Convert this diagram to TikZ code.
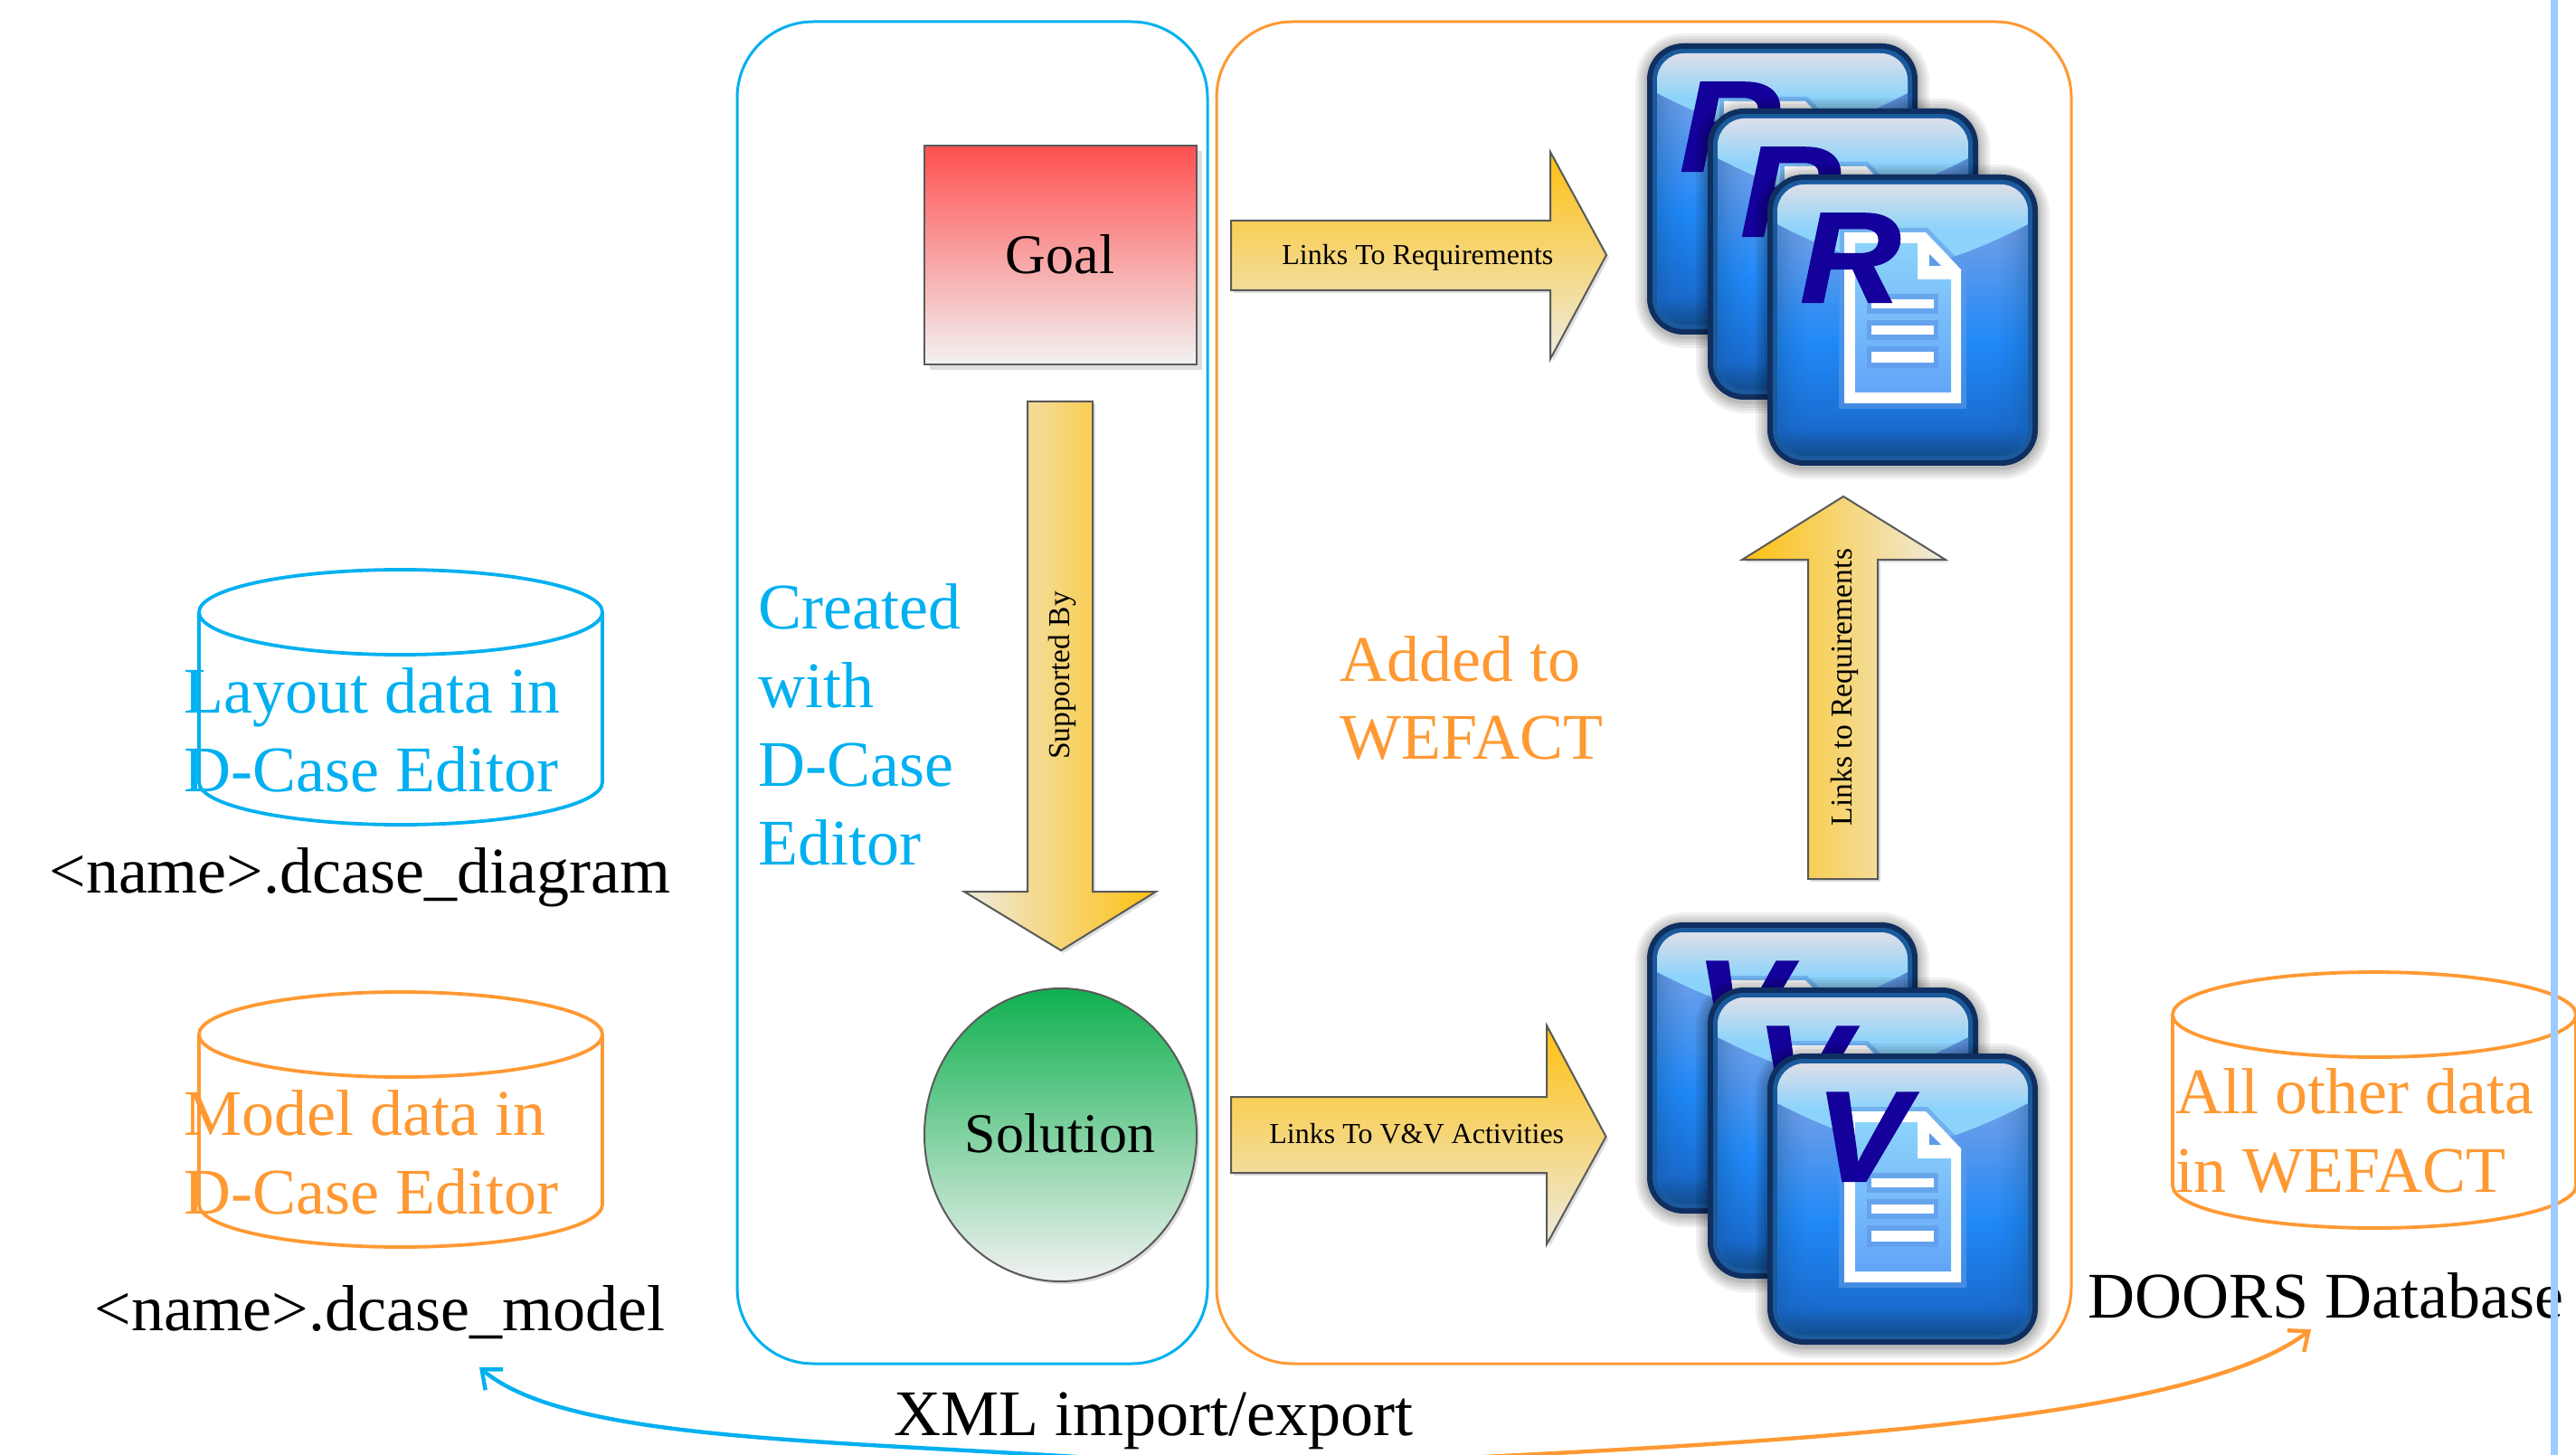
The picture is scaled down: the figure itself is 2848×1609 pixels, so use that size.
\documentclass[tikz,border=0pt]{standalone}
\usepackage{fontspec}
\setmainfont{Liberation Serif}
\newfontfamily\iconsans[BoldItalicFeatures={FakeBold=1.5}]{Liberation Sans}
\usetikzlibrary{arrows.meta}
\definecolor{cblue}{HTML}{00B0F0}
\definecolor{corange}{HTML}{FF9933}
\definecolor{sideline}{HTML}{9CCCFF}
\definecolor{edgegray}{HTML}{5A5A5A}
\definecolor{gold}{HTML}{FEC010}
\definecolor{goldmid}{HTML}{F8D267}
\definecolor{goldpale}{HTML}{EEEBE0}
\definecolor{navy}{HTML}{0F2F60}
\definecolor{rimblue}{HTML}{1A5A9C}
\definecolor{ibot}{HTML}{124F92}
\definecolor{ilow}{HTML}{1A6CD0}
\definecolor{imid}{HTML}{2089F7}
\definecolor{iup}{HTML}{6F9FE8}
\definecolor{hitop}{HTML}{D8DEEA}
\definecolor{hibot}{HTML}{8CD3FB}
\definecolor{halo}{HTML}{5F9BE8}
\definecolor{docbot}{HTML}{62A5F8}
\definecolor{letterc}{HTML}{14009A}
\definecolor{redtop}{HTML}{FF5050}
\definecolor{greentop}{HTML}{0FB04F}
\definecolor{palegray}{HTML}{F2F2F2}
\pgfdeclareverticalshading{iconbody}{100bp}{%
 color(0bp)=(ibot); color(25bp)=(ibot); color(30bp)=(ilow); color(46bp)=(imid);
 color(67bp)=(iup); color(75bp)=(iup); color(100bp)=(iup)}
\pgfdeclareverticalshading{iconglass}{100bp}{%
 color(0bp)=(hibot); color(25bp)=(hibot); color(48bp)=(hibot); color(73bp)=(hitop); color(100bp)=(hitop)}
\tikzset{
  bigtext/.style={inner sep=0pt,anchor=base west,align=left,font=\fontsize{36}{43.5}\selectfont},
  midtext/.style={inner sep=0pt,font=\fontsize{31}{36}\selectfont},
  arrowtext/.style={inner sep=0pt,anchor=base west,font=\fontsize{16}{19}\selectfont},
  uptext/.style={inner sep=0pt,rotate=90,anchor=base,font=\fontsize{16.8}{20}\selectfont},
  roundbox/.style={line width=1.5pt,rounded corners=42pt},
  cyl/.style={line width=1.9pt,line join=round},
  blockedge/.style={draw=edgegray,line width=1pt,line join=miter},
  softshadow/.style={fill=black,opacity=0.13},
  link/.style={line width=2.2pt,-{Straight Barb[length=9pt,width=15pt,line width=2.2pt]}},
}
% #1,#2 position, #3 letter, #4 letter left, #5 letter node name
\newcommand{\docicon}[5]{%
\begin{scope}[shift={(#1,#2)}]
 \foreach \k in {13,10,7,4,2}{
   \pgfmathsetmacro{\rr}{(40+\k)*0.5}
   \fill[black,opacity=0.06,rounded corners=\rr pt] (-\k,-\k+2) rectangle (299+\k,322+\k+2);
 }
 \fill[navy,rounded corners=20pt] (0,0) rectangle (299,322);
 \fill[rimblue,rounded corners=17pt] (6,6) rectangle (293,316);
 \shade[shading=iconbody,rounded corners=15pt] (11,11) rectangle (288,311);
 \foreach \i/\op in {13/0.30,17/0.25,21/0.20,25/0.15,29/0.11,33/0.08,37/0.05,41/0.03}{
   \pgfmathsetmacro{\rr}{max(27-\i*0.5,2)*0.5+7}
   \draw[ibot,opacity=\op,line width=2pt,rounded corners=\rr pt] (\i,\i) rectangle (299-\i,322-\i);
 }
 \begin{scope}
  \clip[rounded corners=15pt] (11,11) rectangle (288,311);
  \shade[shading=iconglass] (11,11) -- (288,11) -- (288,55)
     .. controls (240,80) and (190,100) .. (150,103) .. controls (110,100) and (60,80) .. (11,55) -- cycle;
 \end{scope}
 \fill[halo,opacity=0.6] (80,59) -- (177,59) -- (220,103) -- (220,259) -- (79,259) -- cycle;
 \fill[white] (85,64) -- (175,64) -- (214,105) -- (214,253) -- (85,253) -- cycle;
 \shade[top color=hibot,bottom color=docbot] (97,76) -- (166,76) -- (166,116) -- (203,116) -- (203,241) -- (97,241) -- cycle;
 \fill[halo] (179,88) -- (192,101) -- (179,101) -- cycle;
 \foreach \ya/\yb in {138/148,167/177,196/208}{
   \fill[halo,opacity=0.7] (110,\ya-6) rectangle (189,\yb+6);
   \fill[white] (115,\ya) rectangle (184,\yb);
 }
 \node[inner sep=0pt,anchor=base west,text=letterc,xscale=1.08,transform shape,font=\fontsize{71}{71}\selectfont\iconsans\bfseries\itshape] (#5) at (#4,141) {#3};
\end{scope}}
\newcommand{\cylinder}[4]{% cx, top-centre y, bottom-centre y, colour
 \draw[cyl,#4] (#1,#2) ellipse [x radius=223,y radius=47];
 \draw[cyl,#4] (#1-223,#2) -- (#1-223,#3) arc [start angle=180,end angle=360,x radius=223,y radius=-47] -- (#1+223,#2);
}
\begin{document}
\begin{tikzpicture}[x=0.5pt,y=-0.5pt]
\useasboundingbox (0,0) rectangle (2848,1609);
\fill[white] (0,0) rectangle (2848,1609);

% containers
\draw[roundbox,cblue] (815,24) rectangle (1335,1508);
\draw[roundbox,corange] (1345,24) rectangle (2290,1508);

% goal
\fill[softshadow] (1028,167) rectangle (1329,409);
\shade[top color=redtop,bottom color=palegray,blockedge] (1022,161) rectangle (1323,403);
\node[midtext,anchor=base] (goal) at (1172,303) {Goal};

% solution
\fill[softshadow] (1175.5,1258) ellipse [x radius=150.5,y radius=162];
\shade[top color=greentop,bottom color=palegray,blockedge] (1172.5,1255) ellipse [x radius=150.5,y radius=162];
\node[midtext,anchor=base] (solution) at (1172,1274) {Solution};

% block arrows
\fill[softshadow] (1364,247) -- (1717,247) -- (1717,171) -- (1779,285) -- (1717,400) -- (1717,324) -- (1364,324) -- cycle;
\shade[top color=gold,middle color=goldmid,bottom color=goldpale,blockedge]
  (1361,244) -- (1714,244) -- (1714,168) -- (1776,282) -- (1714,397) -- (1714,321) -- (1361,321) -- cycle;
\node[arrowtext] (linkreq) at (1417,293) {Links To Requirements};

\fill[softshadow] (1364,1216) -- (1713,1216) -- (1713,1137) -- (1778.5,1260) -- (1713,1379) -- (1713,1300) -- (1364,1300) -- cycle;
\shade[top color=gold,middle color=goldmid,bottom color=goldpale,blockedge]
  (1361,1213) -- (1710,1213) -- (1710,1134) -- (1775.5,1257) -- (1710,1376) -- (1710,1297) -- (1361,1297) -- cycle;
\node[arrowtext] (linkvv) at (1403,1264) {Links To V\&V Activities};

\fill[softshadow] (1139,447) -- (1211,447) -- (1211,989) -- (1281,989) -- (1176,1054) -- (1069,989) -- (1139,989) -- cycle;
\shade[left color=goldpale,middle color=goldmid,right color=gold,blockedge]
  (1136,444) -- (1208,444) -- (1208,986) -- (1278,986) -- (1173,1051) -- (1066,986) -- (1136,986) -- cycle;
\node[uptext] (supported) at (1182,747) {Supported By};

\fill[softshadow] (2041,552) -- (2154,622) -- (2079,622) -- (2079,975) -- (2002,975) -- (2002,622) -- (1929,622) -- cycle;
\shade[left color=gold,middle color=goldmid,right color=goldpale,blockedge]
  (2038,549) -- (2151,619) -- (2076,619) -- (2076,972) -- (1999,972) -- (1999,619) -- (1926,619) -- cycle;
\node[uptext] (linkup) at (2047,760) {Links to Requirements};

% document icons
\docicon{1821}{48}{R}{36}{ra}
\docicon{1888}{120}{R}{36}{rb}
\docicon{1954}{193}{R}{36}{rc}
\docicon{1821}{1020}{V}{53}{va}
\docicon{1888}{1092}{V}{53}{vb}
\docicon{1954}{1165}{V}{53}{vc}

% cylinders
\cylinder{443}{677}{865}{cblue}
\cylinder{443}{1144}{1332}{corange}
\cylinder{2625}{1122}{1311}{corange}

% texts
\node[bigtext,text=cblue] (layout) at (203,788) {Layout data in};
\node[bigtext,text=cblue] (layoutb) at (203,875) {D-Case Editor};
\node[bigtext,text=corange] (model) at (203,1255) {Model data in};
\node[bigtext,text=corange] (modelb) at (203,1342) {D-Case Editor};
\node[bigtext] (diagramfile) at (54,987) {<name>.dcase\_diagram};
\node[bigtext] (modelfile) at (104,1471) {<name>.dcase\_model};
\node[bigtext,text=cblue] (created1) at (838,695) {Created};
\node[bigtext,text=cblue] (created2) at (838,782) {with};
\node[bigtext,text=cblue] (created3) at (838,869) {D-Case};
\node[bigtext,text=cblue] (created4) at (838,956) {Editor};
\node[bigtext,text=corange] (added1) at (1481,753) {Added to};
\node[bigtext,text=corange] (added2) at (1481,839) {WEFACT};
\node[bigtext,text=corange] (other1) at (2405,1231) {All other data};
\node[bigtext,text=corange] (other2) at (2405,1318) {in WEFACT};
\node[bigtext] (doors) at (2308,1457) {DOORS Database};
\node[bigtext] (xml) at (988,1587) {XML import/export};

% import / export links
\coordinate (mid) at (1373,1625);
\coordinate (modeltip) at (530,1512);
\coordinate (doorstip) at (2555,1470);
\draw[link,cblue] (mid) .. controls (1000,1590) and (640,1605) .. (modeltip);
\draw[link,corange] (mid) .. controls (1800,1600) and (2400,1590) .. (doorstip);

% slide edge
\fill[sideline] (2820,0) rectangle (2828,1609);
\end{tikzpicture}
\end{document}
